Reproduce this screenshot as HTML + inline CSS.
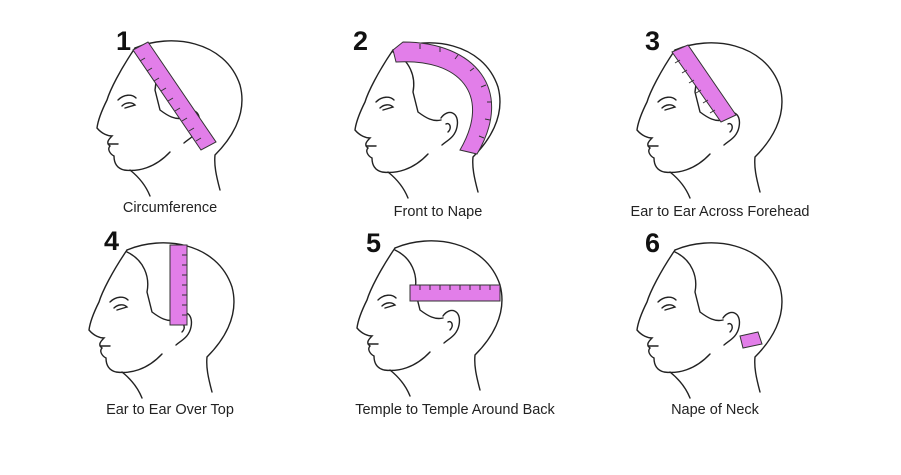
<!DOCTYPE html>
<html><head><meta charset="utf-8"><style>
body{margin:0;background:#fff;width:901px;height:470px;overflow:hidden}
text{font-family:"Liberation Sans",sans-serif}
</style></head><body>
<svg width="901" height="470" viewBox="0 0 901 470" xmlns="http://www.w3.org/2000/svg">
<defs>
<g id="head" fill="none" stroke="#222" stroke-width="1.4" stroke-linecap="round">
<path d="M55,18 C90,3 145,10 160,55 C168,85 150,110 135,125 C134,135 136,145 140,160"/>
<path d="M55,18 C40,40 30,60 27,70 C22,80 18,90 17,98 C22,104 28,106 32,106 C28,110 26,113 30,116 C27,119 30,124 34,126 C34,132 36,138 44,140 C58,142 75,138 90,122"/>
<path d="M50,140 C60,148 66,156 70,166"/>
<path d="M55,20 C72,28 78,45 75,60 L80,80 C88,86 95,90 103,88"/>
<path d="M103,86 C110,76 122,80 119,95 C117,105 110,108 104,113"/>
<path d="M108,92 C112,90 114,96 110,100"/>
<path d="M38,70 C44,64 52,64 56,68 M42,76 C46,72 52,72 55,75 L45,78"/>
<path d="M28,114 L38,114"/>
</g>
</defs>
<use href="#head" x="80" y="30"/>
<use href="#head" x="338" y="32"/>
<use href="#head" x="620" y="32"/>
<use href="#head" x="72" y="232"/>
<use href="#head" x="340" y="230"/>
<use href="#head" x="620" y="232"/>
<g fill="#e27ee9" stroke="#333" stroke-width="1">
<polygon points="133,50 148,42 216,142 201,150"/>
<path d="M393,50 L403,42 C475,42 515,90 477,154 L460,150 C492,95 460,58 396,62 Z"/>
<polygon points="672,52 688,45 736,115 721,122"/>
<rect x="170" y="245" width="17" height="80"/>
<rect x="410" y="285" width="90" height="16"/>
<polygon points="740,336 758,332 762,344 743,348"/>
</g>
<g stroke="#333" stroke-width="1">
<path d="M145,58 l-5,3 M152,68 l-5,3 M159,78 l-5,3 M166,88 l-5,3 M173,98 l-5,3 M180,108 l-5,3 M187,118 l-5,3 M194,128 l-5,3 M201,138 l-5,3"/>
<path d="M680,60 l-5,3 M687,70 l-5,3 M694,80 l-5,3 M701,90 l-5,3 M708,100 l-5,3 M715,110 l-5,3"/>
<path d="M187,255 h-5 M187,265 h-5 M187,275 h-5 M187,285 h-5 M187,295 h-5 M187,305 h-5 M187,315 h-5"/>
<path d="M420,285 v5 M430,285 v5 M440,285 v5 M450,285 v5 M460,285 v5 M470,285 v5 M480,285 v5 M490,285 v5"/>
<path d="M420,44 v5 M440,47 v5 M458,55 l-3,4 M474,68 l-4,3 M486,85 l-5,2 M492,102 h-5 M490,120 l-5,-1 M484,138 l-5,-2"/>
</g>
<g font-weight="bold" font-size="27" fill="#111">
<text x="116" y="50">1</text><text x="353" y="50">2</text><text x="645" y="50">3</text>
<text x="104" y="250">4</text><text x="366" y="252">5</text><text x="645" y="252">6</text>
</g>
<g font-size="14.5" fill="#222" text-anchor="middle">
<text x="170" y="212">Circumference</text>
<text x="438" y="216">Front to Nape</text>
<text x="720" y="216">Ear to Ear Across Forehead</text>
<text x="170" y="414">Ear to Ear Over Top</text>
<text x="455" y="414">Temple to Temple Around Back</text>
<text x="715" y="414">Nape of Neck</text>
</g>
</svg>
</body></html>
